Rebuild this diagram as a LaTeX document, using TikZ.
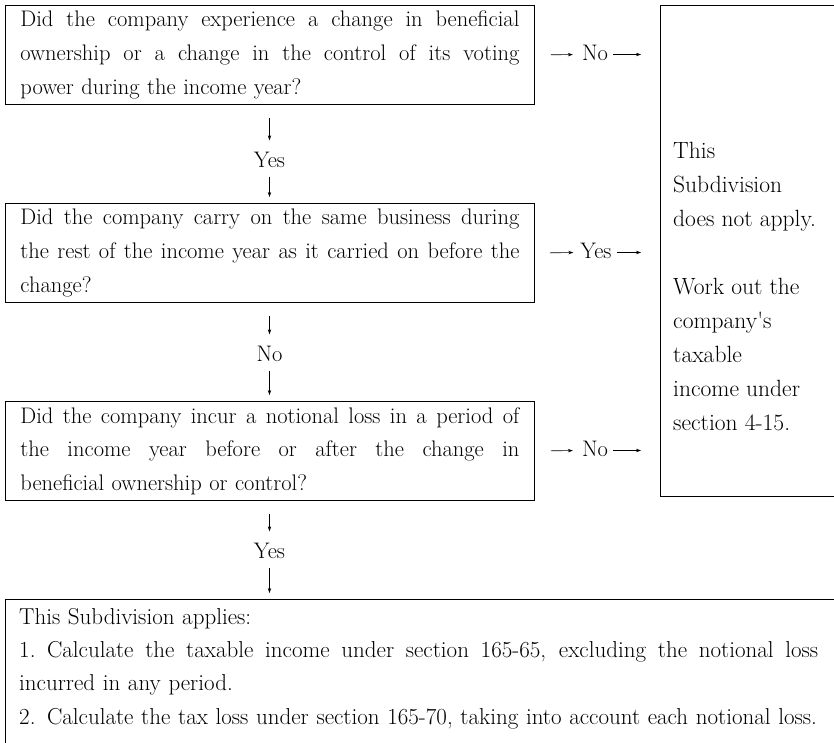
\documentclass[tikz,border=0pt]{standalone}
\usepackage{fontspec}
\setmainfont{Latin Modern Roman}
\usetikzlibrary{arrows.meta}
\newcommand\boxfont{\fontsize{22.5}{33.6}\selectfont}
\newcommand\jline[1]{\leavevmode\hbox to 499pt{\spaceskip=0.33em plus 1fil\relax #1}}
\newcommand\jwide[1]{\leavevmode\hbox to 799pt{\spaceskip=0.33em plus 1fil\relax #1}}
\begin{document}
\begin{tikzpicture}[x=1pt,y=-1pt,
  qbox/.style={draw, line width=0.9pt, anchor=north west, minimum width=529pt,
    minimum height=99pt, inner xsep=15pt, inner ysep=0pt, text width=499pt,
    align=left, font=\boxfont},
  plainbox/.style={draw, line width=0.9pt, anchor=north west, inner sep=0pt},
  txt/.style={anchor=north west, inner sep=0pt, align=left, font=\boxfont},
  lbl/.style={inner sep=0pt, text height=15pt, text depth=4pt, font=\boxfont},
  arr/.style={-{Stealth[length=5pt,width=3.4pt]}, line width=0.6pt},
]
\useasboundingbox (0,0) rectangle (834,742);
\clip (0,0) rectangle (834,742);

% question boxes
\node[qbox] (q1) at (5,5) {%
\jline{Did the company experience a change in beneficial}\\
\jline{ownership or a change in the control of its voting}\\
power during the income year?};
\node[qbox] (q2) at (5,203) {%
\jline{Did the company carry on the same business during}\\
\jline{the rest of the income year as it carried on before the}\\
change?};
\node[qbox] (q3) at (5,401) {%
\jline{Did the company incur a notional loss in a period of}\\
\jline{the income year before or after the change in}\\
beneficial ownership or control?};

% right box
\node[plainbox, minimum width=300pt, minimum height=491pt] (r) at (660,5) {};
\node[txt, font=\fontsize{23.5}{34}\selectfont] (rt) at (673,142) {%
This\\
Subdivision\\
does not apply.\\[34pt]
Work out the\\
company\textquotesingle s\\
taxable\\
income under\\
section 4-15.};

% final box
\node[plainbox, minimum width=900pt, minimum height=200pt] (fin) at (5,599) {};
\node[txt, text width=810pt, font=\fontsize{23}{33.3}\selectfont] (ft) at (19,608) {%
This Subdivision applies:\\
\jwide{1. Calculate the taxable income under section 165-65, excluding the notional loss}\\
incurred in any period.\\
2. Calculate the tax loss under section 165-70, taking into account each notional loss.};

% vertical labels
\node[lbl] (y1) at (269.5,162) {Yes};
\node[lbl] (n2) at (269.5,356) {No};
\node[lbl] (y3) at (269.5,553) {Yes};

% horizontal labels
\node[lbl] (h1) at (595,54.5) {No};
\node[lbl] (h2) at (596,252.5) {Yes};
\node[lbl] (h3) at (595,450.5) {No};

% vertical connectors
\draw[arr, shorten <=13pt, shorten >=12pt] (y1 |- q1.south) -- (y1.north);
\draw[arr, shorten <=5pt, shorten >=6pt] (y1.south) -- (y1 |- q2.north);
\draw[arr, shorten <=13pt, shorten >=12pt] (n2 |- q2.south) -- (n2.north);
\draw[arr, shorten <=5pt, shorten >=6pt] (n2.south) -- (n2 |- q3.north);
\draw[arr, shorten <=13pt, shorten >=12pt] (y3 |- q3.south) -- (y3.north);
\draw[arr, shorten <=5pt, shorten >=6pt] (y3.south) -- (y3 |- fin.north);

% horizontal connectors
\draw[arr, shorten <=16pt, shorten >=9pt] (q1.east) -- (h1.west);
\draw[arr, shorten <=5pt, shorten >=19pt] (h1.east) -- (h1.east -| r.west);
\draw[arr, shorten <=15pt, shorten >=7pt] (q2.east) -- (h2.west);
\draw[arr, shorten <=5pt, shorten >=19pt] (h2.east) -- (h2.east -| r.west);
\draw[arr, shorten <=16pt, shorten >=9pt] (q3.east) -- (h3.west);
\draw[arr, shorten <=5pt, shorten >=19pt] (h3.east) -- (h3.east -| r.west);
\end{tikzpicture}
\end{document}
